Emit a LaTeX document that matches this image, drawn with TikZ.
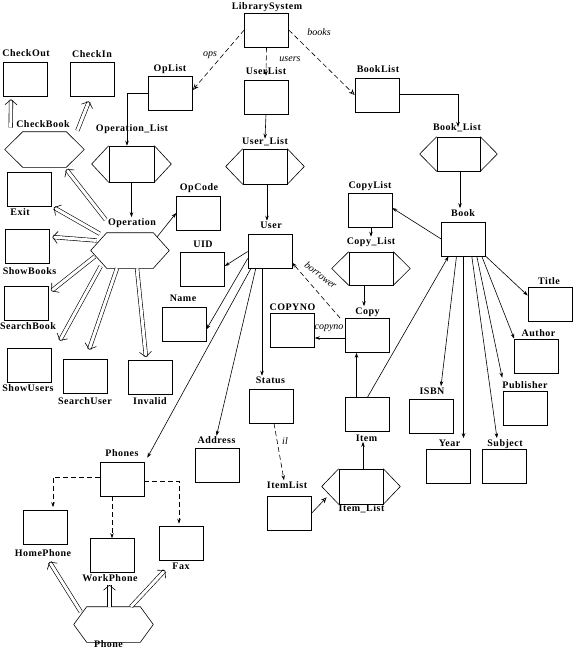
\documentclass[tikz,border=0pt]{standalone}
\usepackage{fontspec}
\setmainfont{Liberation Serif}
\newfontfamily\lblfam[LetterSpace=5]{Liberation Serif}
\usetikzlibrary{arrows.meta}
\newcommand\hexshape[2]{\draw (#1.west) -- ([xshift=#2]#1.north west) -- ([xshift=-#2]#1.north east) -- (#1.east) -- ([xshift=-#2]#1.south east) -- ([xshift=#2]#1.south west) -- cycle;}
\newcommand\contshape[1]{\draw (#1.north west) -- ([xshift=-17pt]#1.west) -- (#1.south west) (#1.north east) -- ([xshift=17pt]#1.east) -- (#1.south east);}
\begin{document}
\begin{tikzpicture}[x=1pt,y=-1pt, line width=0.6pt,
  box/.style={draw, minimum width=44pt, minimum height=34pt, inner sep=0pt},
  ghost/.style={minimum width=#1, minimum height=35pt, inner sep=0pt},
  lbl/.style={font=\lblfam\bfseries\fontsize{10}{12}\selectfont, inner sep=0.5pt, text height=7pt, text depth=0pt},
  elbl/.style={font=\itshape\fontsize{10}{12}\selectfont, inner sep=0.5pt, text height=7pt, text depth=0pt},
  arr/.style={-{Stealth[length=5pt,width=3.5pt]}},
  darr/.style={dash pattern=on 5pt off 3pt, -{Stealth[length=5pt,width=3.5pt]}},
  oarr/.style={dash pattern=on 5pt off 3pt, -{Stealth[open,length=6pt,width=5pt]}},
  impl/.style={double, double distance=3pt, -{Straight Barb[length=5pt,width=12pt,line width=0.6pt]}},
]
\useasboundingbox (0,0) rectangle (573,649);

% ---------- boxes ----------
\node[box] (LibrarySystem) at (266.5,30) {};
\node[box] (OpList) at (170.5,93) {};
\node[box] (UserList) at (266,97) {};
\node[box] (BookList) at (377,95) {};
\node[box] (CheckOut) at (25.5,79) {};
\node[box] (CheckIn) at (92.5,79) {};
\node[box, minimum height=36pt, minimum width=45pt] (Operation_List) at (131.5,164) {};
\node[box, minimum height=35pt] (User_List) at (265,166.5) {};
\node[box, minimum width=43pt] (Book_List) at (458.5,154) {};
\node[box, minimum height=33pt] (Copy_List) at (371,268.5) {};
\node[box, minimum height=35pt] (Item_List) at (361,486.5) {};
\contshape{Operation_List}
\contshape{User_List}
\contshape{Book_List}
\contshape{Copy_List}
\contshape{Item_List}

\node[ghost=79pt] (CheckBook) at (44.5,149.5) {};
\node[ghost=78pt] (Operation) at (130,250.5) {};
\node[ghost=79pt] (Phone) at (113.5,624.5) {};
\hexshape{CheckBook}{18pt}
\hexshape{Operation}{16pt}
\hexshape{Phone}{13pt}

\node[box] (Exit) at (29.5,189.5) {};
\node[box] (OpCode) at (198.5,213) {};
\node[box] (ShowBooks) at (27,246) {};
\node[box] (SearchBook) at (26,303) {};
\node[box] (ShowUsers) at (29.5,365) {};
\node[box] (SearchUser) at (85,376) {};
\node[box] (Invalid) at (150.5,377.5) {};
\node[box] (UID) at (202.5,269) {};
\node[box] (User) at (270,251.5) {};
\node[box] (Name) at (184,324.5) {};
\node[box] (CopyList) at (370,210) {};
\node[box] (Book) at (463.5,239) {};
\node[box] (Copy) at (367.5,335.5) {};
\node[box] (COPYNO) at (292.5,330.5) {};
\node[box] (Status) at (271,406) {};
\node[box] (Address) at (217,465.5) {};
\node[box] (ItemList) at (289,513.5) {};
\node[box] (Item) at (367.5,414.5) {};
\node[box] (Title) at (550,304.5) {};
\node[box] (Author) at (536.5,356) {};
\node[box] (Publisher) at (525.5,408) {};
\node[box] (ISBN) at (431,416) {};
\node[box] (Year) at (448.5,466) {};
\node[box] (Subject) at (504.5,466) {};
\node[box] (Phones) at (122,479) {};
\node[box] (HomePhone) at (45.5,527.5) {};
\node[box] (WorkPhone) at (112.5,555.5) {};
\node[box] (Fax) at (181,543) {};

% ---------- labels ----------
\node[lbl] (lLibrarySystem) at (267,6) {LibrarySystem};
\node[lbl] (lOpList) at (170,68) {OpList};
\node[lbl] (lUserList) at (266,70.5) {UserList};
\node[lbl] (lBookList) at (378,69) {BookList};
\node[lbl] (lCheckOut) at (26,53) {CheckOut};
\node[lbl] (lCheckIn) at (92,54) {CheckIn};
\node[lbl] (lOperation_List) at (132,128) {Operation\_List};
\node[lbl] (lCheckBook) at (43,124) {CheckBook};
\node[lbl] (lUser_List) at (265,140.5) {User\_List};
\node[lbl] (lBook_List) at (457,127) {Book\_List};
\node[lbl] (lOperation) at (132,221.5) {Operation};
\node[lbl] (lOpCode) at (199,187) {OpCode};
\node[lbl] (lExit) at (20,211.5) {Exit};
\node[lbl] (lShowBooks) at (29.5,270.5) {ShowBooks};
\node[lbl] (lSearchBook) at (28,325.5) {SearchBook};
\node[lbl] (lShowUsers) at (28,387.5) {ShowUsers};
\node[lbl] (lSearchUser) at (85,401) {SearchUser};
\node[lbl] (lInvalid) at (150,401) {Invalid};
\node[lbl] (lCopyList) at (370,184.5) {CopyList};
\node[lbl] (lUID) at (203,244) {UID};
\node[lbl] (lUser) at (271,225) {User};
\node[lbl] (lName) at (183,297.5) {Name};
\node[lbl] (lBook) at (463,212.5) {Book};
\node[lbl] (lCopy_List) at (371,241) {Copy\_List};
\node[lbl] (lCopy) at (367.5,310.5) {Copy};
\node[lbl] (lCOPYNO) at (292.5,307) {COPYNO};
\node[lbl] (lStatus) at (270.5,380) {Status};
\node[lbl] (lAddress) at (216.5,440) {Address};
\node[lbl] (lItemList) at (287,484.5) {ItemList};
\node[lbl] (lItem_List) at (361.5,508) {Item\_List};
\node[lbl] (lItem) at (366.5,437.5) {Item};
\node[lbl] (lTitle) at (549,280.5) {Title};
\node[lbl] (lAuthor) at (538.5,333) {Author};
\node[lbl] (lPublisher) at (525,384.5) {Publisher};
\node[lbl] (lISBN) at (432,390.5) {ISBN};
\node[lbl] (lYear) at (449.5,442.5) {Year};
\node[lbl] (lSubject) at (505,442.5) {Subject};
\node[lbl] (lPhones) at (122,453) {Phones};
\node[lbl] (lHomePhone) at (43,553) {HomePhone};
\node[lbl] (lWorkPhone) at (110,578) {WorkPhone};
\node[lbl] (lFax) at (181,565.5) {Fax};
\node[lbl] (lPhone) at (108.5,644) {Phone};

\node[elbl] (eops) at (210,53) {ops};
\node[elbl] (eusers) at (290,58) {users};
\node[elbl] (ebooks) at (319,31.5) {books};
\node[elbl, rotate=-37] (eborrower) at (321,275) {borrower};
\node[elbl] (ecopyno) at (329,326) {copyno};
\node[elbl] (eil) at (285,440.5) {il};

% ---------- connectors ----------
\draw[oarr] (LibrarySystem.west) -- ([yshift=3pt]OpList.east);
\draw[darr] (LibrarySystem.south) -- ([yshift=4pt]UserList.north);
\draw[oarr] (LibrarySystem.east) -- (BookList.west);
\draw[arr] (OpList.west) -| ([xshift=-4.5pt]Operation_List.north);
\draw[arr] ([yshift=1pt]BookList.east) -| ([xshift=-0.5pt]Book_List.north |- lBook_List.center);
\draw[arr] (UserList.south) -- ([yshift=10pt]User_List.north);
\draw[arr] ([xshift=2pt]User_List.south) -- ([xshift=2pt]User_List.south |- lUser.north);
\draw[arr] ([xshift=1.5pt]Book_List.south) -- ([xshift=1.5pt]Book_List.south |- lBook.north);
\draw[arr] (Book.west) -- ([yshift=2pt]CopyList.east);
\draw[arr] ([xshift=1pt]CopyList.south) -- ([xshift=1pt]CopyList.south |- lCopy_List.north);
\draw[arr] ([xshift=-7pt]Copy_List.south) -- ([xshift=-7pt]Copy_List.south |- lCopy.north);
\draw[darr] ([xshift=-5pt]Copy.north west) -- ([yshift=6pt]User.south east);
\draw[arr] ([yshift=-2.5pt]Copy.west) -- ([yshift=-2.5pt]Copy.west -| COPYNO.east);
\draw[arr] (Operation_List.south) -- (Operation_List.south |- lOperation.north);
\draw[arr] ([xshift=-12pt,yshift=-4pt]Operation.north east) -- (OpCode.west);

\draw[arr] (User.west) -- ([yshift=3pt]UID.east);
\draw[arr] ([yshift=-7pt]User.west) -- ([yshift=-5pt]Name.east);
\draw[arr] ([xshift=3pt]User.south west) -- ([xshift=3pt,yshift=4pt]Phones.north east);
\draw[arr] ([xshift=8pt]User.south west) -- (lAddress.north);
\draw[arr] ([xshift=-8pt]User.south) -- ([xshift=-8pt]User.south |- lStatus.north);
\draw[darr] ([xshift=3pt]Status.south) -- ([xshift=-3pt]lItemList.north);
\draw[oarr, solid] (ItemList.east) -- ([xshift=-12pt,yshift=7pt]Item_List.south west);
\draw[arr] ([xshift=2pt]Item_List.north) -- ([xshift=2pt]Item_List.north |- lItem.south);
\draw[arr] ([xshift=-11pt]Item.north) -- ([xshift=-11pt]Copy.south);
\draw[arr] (Item.north) -- ([xshift=-15pt]Book.south);

\draw[arr] (Book.south east) -- ([yshift=9pt]Title.west);
\draw[arr] ([xshift=-4pt]Book.south east) -- (Author.north west);
\draw[arr] ([xshift=-9pt]Book.south east) -- ([xshift=-1pt,yshift=13pt]Publisher.north west);
\draw[arr] ([xshift=-14pt]Book.south east) -- ([xshift=-8pt]lSubject.north);
\draw[arr] (Book.south) -- (Book.south |- lYear.north);
\draw[arr] ([xshift=-7pt]Book.south) -- ([xshift=9pt]lISBN.north);

\draw[darr] ([yshift=2pt]Phones.west) -| ([xshift=7.5pt,yshift=3pt]HomePhone.north);
\draw[darr] ([xshift=-10pt]Phones.south) -- ([xshift=-10pt]Phones.south |- WorkPhone.north);
\draw[darr] ([yshift=-2pt]Phones.east) -| ([xshift=-2pt,yshift=2pt]Fax.north);

% ---------- inheritance (double) arrows ----------
\draw[impl] ([xshift=6pt,yshift=4pt]CheckBook.north west) -- ([xshift=-14.5pt,yshift=-3pt]CheckOut.south);
\draw[impl] ([xshift=-7pt,yshift=1pt]CheckBook.north east) -- ([xshift=-3.5pt,yshift=-5pt]CheckIn.south);
\draw[impl] ([xshift=15pt,yshift=13pt]Operation.north west) -- ([xshift=-18pt,yshift=-2pt]CheckBook.south east);
\draw[impl] ([xshift=9pt,yshift=-1pt]Operation.north west) -- ([xshift=2pt,yshift=-18pt]Exit.east);
\draw[impl] ([xshift=6pt,yshift=10pt]Operation.west) -- ([xshift=3pt,yshift=9pt]ShowBooks.east);
\draw[impl] ([xshift=4pt,yshift=-6pt]Operation.west) -- ([xshift=3pt,yshift=12pt]SearchBook.east);
\draw[impl] ([xshift=10pt,yshift=2pt]Operation.south west) -- ([xshift=8pt,yshift=7pt]ShowUsers.north east);
\draw[impl] ([xshift=-13pt]Operation.south) -- ([xshift=4pt,yshift=9pt]SearchUser.north);
\draw[impl] ([xshift=7pt]Operation.south) -- ([xshift=-4.5pt,yshift=3pt]Invalid.north);
\draw[impl] ([xshift=7pt,yshift=-5pt]Phone.north west) -- ([xshift=4pt,yshift=-17pt]HomePhone.south);
\draw[impl] ([xshift=-4pt]Phone.north) -- ([xshift=-3pt,yshift=-12pt]WorkPhone.south);
\draw[impl] ([xshift=17.5pt]Phone.north) -- ([xshift=-16pt,yshift=-10pt]Fax.south);
\end{tikzpicture}
\end{document}
